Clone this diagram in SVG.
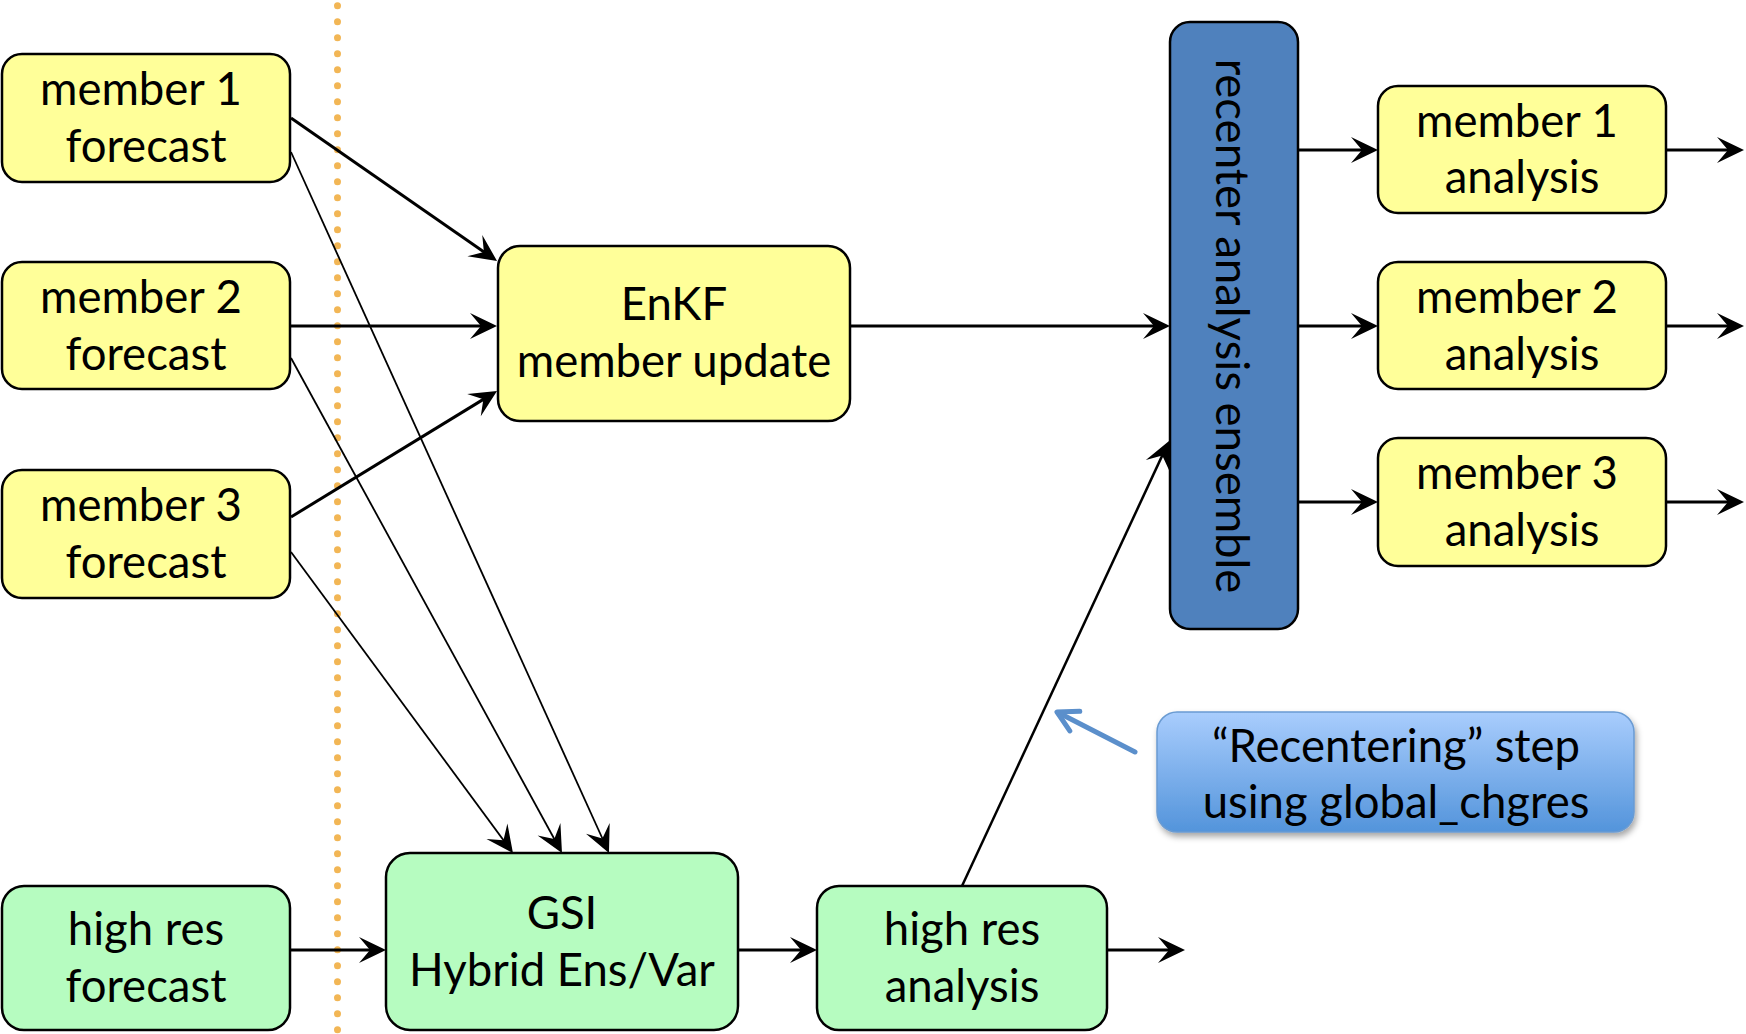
<svg xmlns="http://www.w3.org/2000/svg" width="1746" height="1034" viewBox="0 0 1746 1034">
  <style>
    .box { stroke: #000; stroke-width: 2.5; }
    .yel { fill: #ffff99; }
    .grn { fill: #b6fcc0; }
    .blu { fill: #4f81bd; }
    .t { font-family: Lato, "Liberation Sans", sans-serif; font-size: 45.5px; fill: #000; text-anchor: middle; }
    .thick { stroke: #000; stroke-width: 3; fill: none; marker-end: url(#ah); }
    .thin { stroke: #000; stroke-width: 1.8; fill: none; marker-end: url(#ah); }
  </style>
  <defs>
    <marker id="ah" markerUnits="userSpaceOnUse" markerWidth="40" markerHeight="40" viewBox="-30 -20 40 40" refX="-6" refY="0" orient="auto" overflow="visible">
      <path d="M0,0 L-27,-13 L-16,0 L-27,13 Z" fill="#000"/>
    </marker>
    <linearGradient id="cg" x1="0" y1="0" x2="0" y2="1">
      <stop offset="0" stop-color="#a9cdfd"/>
      <stop offset="1" stop-color="#5394db"/>
    </linearGradient>
    <filter id="sh" x="-10%" y="-20%" width="125%" height="150%">
      <feDropShadow dx="2" dy="4" stdDeviation="3" flood-color="#000" flood-opacity="0.35"/>
    </filter>
  </defs>

  <rect width="1746" height="1034" fill="#fff"/>

  <line x1="337.5" y1="5.7" x2="337.5" y2="1034" stroke="#f2b655" stroke-width="7" stroke-linecap="round" stroke-dasharray="0 16"/>

  <g id="connectors">
    <line class="thick" x1="291" y1="118" x2="492.1" y2="257.6"/>
    <line class="thick" x1="291" y1="326" x2="491" y2="326"/>
    <line class="thick" x1="291" y1="517" x2="491.9" y2="394.1"/>
    <line class="thin" x1="291" y1="152" x2="606.5" y2="847.5"/>
    <line class="thin" x1="291" y1="358" x2="559.1" y2="847.7"/>
    <line class="thin" x1="291" y1="552" x2="509.4" y2="848.2"/>
    <line class="thick" x1="850" y1="326" x2="1164" y2="326"/>
    <line class="thin" style="stroke-width:2.5" x1="962" y1="886" x2="1166.5" y2="446.4"/>
    <line class="thick" x1="1298" y1="150" x2="1372" y2="150"/>
    <line class="thick" x1="1298" y1="326" x2="1372" y2="326"/>
    <line class="thick" x1="1298" y1="502" x2="1372" y2="502"/>
    <line class="thick" x1="1666" y1="150" x2="1738" y2="150"/>
    <line class="thick" x1="1666" y1="326" x2="1738" y2="326"/>
    <line class="thick" x1="1666" y1="502" x2="1738" y2="502"/>
    <line class="thick" x1="290" y1="950" x2="380" y2="950"/>
    <line class="thick" x1="738" y1="950" x2="811" y2="950"/>
    <line class="thick" x1="1107" y1="950" x2="1179" y2="950"/>
    <g stroke="#5b8fcb" stroke-width="5" stroke-linecap="round" stroke-linejoin="round" fill="none">
      <line x1="1135" y1="752" x2="1058" y2="712.5"/>
      <polyline points="1069.8,730.9 1057,712 1079.8,711.3"/>
    </g>
  </g>

  <g id="m1f">
    <rect class="box yel" x="2" y="54" width="288" height="128" rx="20"/>
    <text class="t" x="141" y="105">member 1</text>
    <text class="t" x="146" y="162">forecast</text>
  </g>
  <g id="m2f">
    <rect class="box yel" x="2" y="262" width="288" height="127" rx="20"/>
    <text class="t" x="141" y="312.5">member 2</text>
    <text class="t" x="146" y="369.5">forecast</text>
  </g>
  <g id="m3f">
    <rect class="box yel" x="2" y="470" width="288" height="128" rx="20"/>
    <text class="t" x="141" y="521">member 3</text>
    <text class="t" x="146" y="578">forecast</text>
  </g>
  <g id="hrf">
    <rect class="box grn" x="2" y="886" width="288" height="144" rx="22"/>
    <text class="t" x="146" y="945">high res</text>
    <text class="t" x="146" y="1002">forecast</text>
  </g>
  <g id="enkf">
    <rect class="box yel" x="498" y="246" width="352" height="175" rx="22"/>
    <text class="t" x="674" y="320">EnKF</text>
    <text class="t" x="674" y="377">member update</text>
  </g>
  <g id="gsi">
    <rect class="box grn" x="386" y="853" width="352" height="177" rx="24"/>
    <text class="t" x="562" y="929">GSI</text>
    <text class="t" x="562" y="986">Hybrid Ens/Var</text>
  </g>
  <g id="hra">
    <rect class="box grn" x="817" y="886" width="290" height="144" rx="22"/>
    <text class="t" x="962" y="945">high res</text>
    <text class="t" x="962" y="1002">analysis</text>
  </g>
  <g id="recenter">
    <rect class="box blu" x="1170" y="22" width="128" height="607" rx="20"/>
    <text class="t" transform="translate(1216,326) rotate(90)" x="0" y="0">recenter analysis ensemble</text>
  </g>
  <g id="m1a">
    <rect class="box yel" x="1378" y="86" width="288" height="127" rx="20"/>
    <text class="t" x="1517" y="137">member 1</text>
    <text class="t" x="1522" y="193">analysis</text>
  </g>
  <g id="m2a">
    <rect class="box yel" x="1378" y="262" width="288" height="127" rx="20"/>
    <text class="t" x="1517" y="312.5">member 2</text>
    <text class="t" x="1522" y="369.5">analysis</text>
  </g>
  <g id="m3a">
    <rect class="box yel" x="1378" y="438" width="288" height="128" rx="20"/>
    <text class="t" x="1517" y="489">member 3</text>
    <text class="t" x="1522" y="546">analysis</text>
  </g>
  <g id="callout">
    <rect x="1157" y="712" width="477" height="120" rx="20" fill="url(#cg)" stroke="#6a9bd2" stroke-width="1.5" filter="url(#sh)"/>
    <text class="t" x="1396" y="762">“Recentering” step</text>
    <text class="t" x="1396" y="818">using global_chgres</text>
  </g>
</svg>
